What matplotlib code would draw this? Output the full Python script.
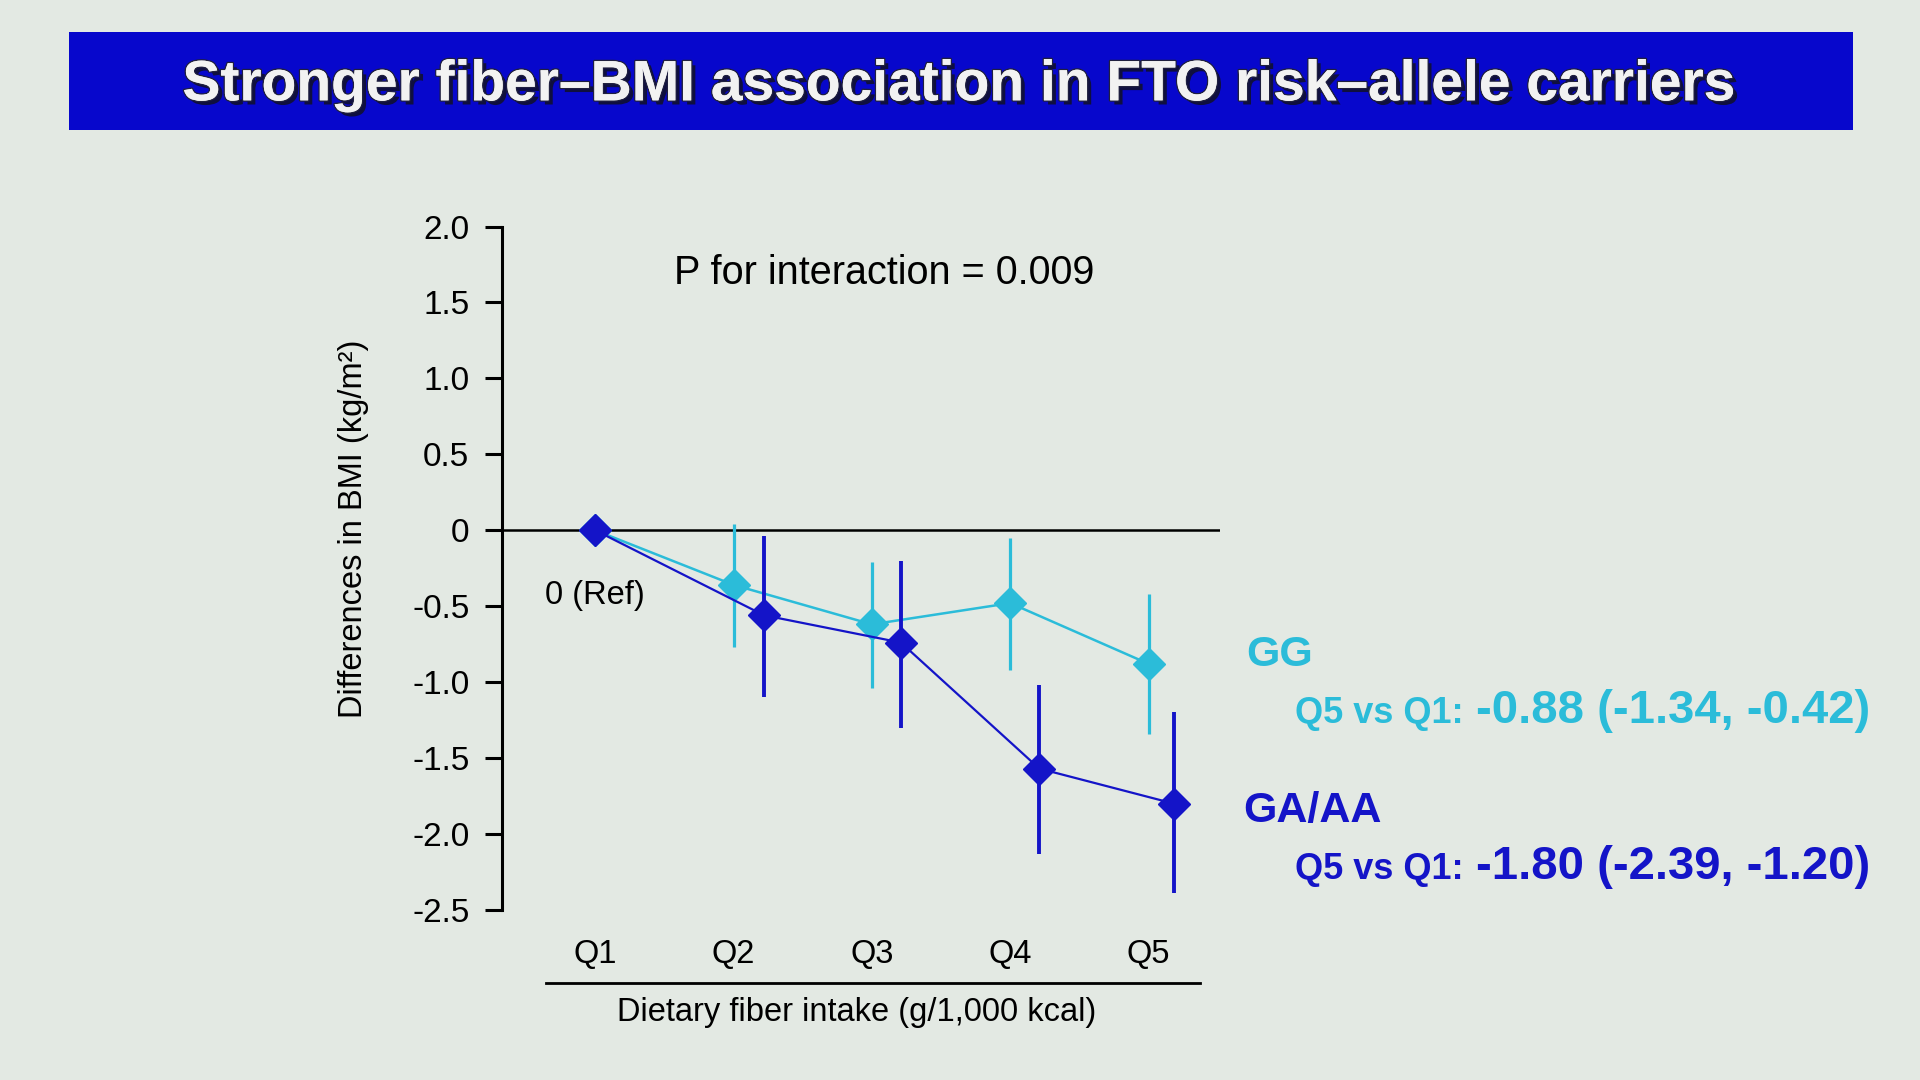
import matplotlib
matplotlib.use('Agg')
import matplotlib.pyplot as plt
import matplotlib.patheffects as pe
from matplotlib.patches import Rectangle
from matplotlib.lines import Line2D

plt.rcParams['font.family'] = ['Liberation Sans', 'DejaVu Sans']

# 数据
quintiles = ['Q1', 'Q2', 'Q3', 'Q4', 'Q5']
gg_mean = [0, -0.36, -0.62, -0.48, -0.88]
gg_low = [0, -0.77, -1.04, -0.92, -1.34]
gg_high = [0, 0.04, -0.21, -0.05, -0.42]
gaaa_mean = [0, -0.56, -0.74, -1.57, -1.80]
gaaa_low = [0, -1.10, -1.30, -2.13, -2.39]
gaaa_high = [0, -0.04, -0.20, -1.02, -1.20]
ytick_values = [2.0, 1.5, 1.0, 0.5, 0, -0.5, -1.0, -1.5, -2.0, -2.5]
ytick_labels = ['2.0', '1.5', '1.0', '0.5', '0', '-0.5', '-1.0', '-1.5', '-2.0', '-2.5']

title = 'Stronger fiber\u2013BMI association in FTO risk\u2013allele carriers'
gg_summary = '-0.88 (-1.34, -0.42)'
gaaa_summary = '-1.80 (-2.39, -1.20)'

bg = '#e3e9e3'
cyan = '#2bbcd9'
navy = '#1414c8'

fig = plt.figure(figsize=(19.2, 10.8), dpi=100, facecolor=bg)

# 标题横幅
fig.add_artist(Rectangle((0.0357, 0.8798), 0.9292, 0.0907, transform=fig.transFigure,
                         facecolor='#0707cc', edgecolor='none'))
fig.text(0.5, 0.921, title, ha='center', va='center', fontsize=41, fontweight='bold',
         color='#f2f2f2',
         path_effects=[pe.SimplePatchShadow(offset=(3, -3), shadow_rgbFace='#101030', alpha=0.9),
                       pe.withStroke(linewidth=2, foreground='#202040'), pe.Normal()])

ax = fig.add_axes([0.2615, 0.1576, 0.3737, 0.6326])
ax.set_facecolor(bg)

x = list(range(len(quintiles)))
shift = [0, 0.22, 0.21, 0.21, 0.18]
x2 = [a + b for a, b in zip(x, shift)]

ax.axhline(0, color='black', lw=1.8, zorder=1)

gg_err = [[m - l for m, l in zip(gg_mean, gg_low)], [h - m for m, h in zip(gg_mean, gg_high)]]
ga_err = [[m - l for m, l in zip(gaaa_mean, gaaa_low)], [h - m for m, h in zip(gaaa_mean, gaaa_high)]]

ax.errorbar(x, gg_mean, yerr=gg_err, color=cyan, lw=1.8, elinewidth=2.3, capsize=0,
            marker='D', markersize=16, zorder=3)
ax.errorbar(x2, gaaa_mean, yerr=ga_err, color=navy, lw=1.6, elinewidth=2.8, capsize=0,
            marker='D', markersize=16, zorder=4)

ax.set_xlim(-0.6726, 4.513)
ax.set_ylim(-2.5, 2.0)
ax.set_yticks(ytick_values)
ax.set_yticklabels(ytick_labels)
ax.set_xticks(x)
ax.set_xticklabels(quintiles)

for s in ['top', 'right', 'bottom']:
    ax.spines[s].set_visible(False)
ax.spines['left'].set_linewidth(2.2)
ax.tick_params(axis='y', direction='out', length=12.5, width=2.2, labelsize=24, pad=11)
ax.tick_params(axis='x', length=0, labelsize=23.5, pad=21)

ax.set_ylabel('Differences in BMI (kg/m\u00b2)', fontsize=23.5)
ax.yaxis.set_label_coords(-0.186, 0.557)

fig.text(0.3508, 0.747, 'P for interaction = 0.009', ha='left', va='center', fontsize=28.5)
fig.text(0.2838, 0.449, '0 (Ref)', ha='left', va='center', fontsize=23.5)

# 下方的横线和x轴标题
fig.add_artist(Line2D([0.2844, 0.625], [0.0896, 0.0896], transform=fig.transFigure,
                      color='black', lw=2))
fig.text(0.4464, 0.0624, 'Dietary fiber intake (g/1,000 kcal)', ha='center', va='center',
         fontsize=23.5)

# 右侧说明
fig.text(0.6492, 0.3832, 'GG', color=cyan, fontsize=31, fontweight='bold', va='baseline')
fig.text(0.6747, 0.331, 'Q5 vs Q1:', color=cyan, fontsize=26, fontweight='bold', va='baseline')
fig.text(0.7685, 0.331, gg_summary, color=cyan, fontsize=34, fontweight='bold', va='baseline')

fig.text(0.6473, 0.2392, 'GA/AA', color=navy, fontsize=31, fontweight='bold', va='baseline')
fig.text(0.6747, 0.186, 'Q5 vs Q1:', color=navy, fontsize=26, fontweight='bold', va='baseline')
fig.text(0.7685, 0.186, gaaa_summary, color=navy, fontsize=34, fontweight='bold', va='baseline')

plt.savefig('out.png', dpi=100, facecolor=bg)
